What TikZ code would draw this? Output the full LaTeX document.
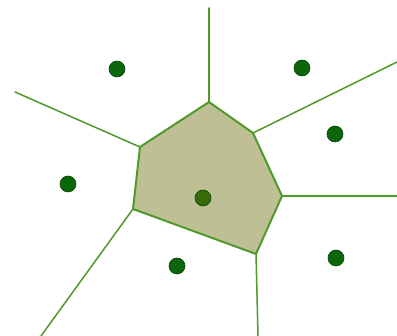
\documentclass[tikz,border=0pt]{standalone}
\usetikzlibrary{positioning}
\definecolor{edgegreen}{HTML}{4E9A2C}
\definecolor{cellfill}{HTML}{BFBF96}
\definecolor{sitegreen}{HTML}{0B650B}
\definecolor{sitecenter}{HTML}{386A08}
\tikzset{
edge/.style={edgegreen,line width=1.5pt,line join=round,line cap=round},
cell/.style={fill=cellfill,draw=edgegreen,line width=2pt,line join=round},
site/.style={circle,fill=sitegreen,draw=sitegreen!70!black,line width=.6pt,minimum size=16pt,inner sep=0pt},
sitec/.style={site,fill=sitecenter}
}
\begin{document}
\begin{tikzpicture}[x=1pt,y=-1pt]
\useasboundingbox[fill=white](0,0)rectangle(397,336);
% cell corners
\coordinate(v1)at(209,102);\coordinate(v2)at(253,133);\coordinate(v3)at(282,196);
\coordinate(v4)at(256,254);\coordinate(v5)at(133,209);\coordinate(v6)at(140,147);
% outer ends
\coordinate(e1)at(209,8);\coordinate(e2)at(397,62);\coordinate(e3)at(397,196);
\coordinate(e4)at(258,336);\coordinate(e5)at(41,336);\coordinate(e6)at(15,92);
\draw[edge](v1)--(e1);\draw[edge](v2)--(e2);\draw[edge](v3)--(e3);
\draw[edge](v4)--(e4);\draw[edge](v5)--(e5);\draw[edge](v6)--(e6);
\draw[cell](v1)--(v2)--(v3)--(v4)--(v5)--(v6)--cycle;
% sites
\node[sitec](c)at(203,198){};
\node[site](nw)at(117,69){};\node[site](ne)at(302,68){};
\node[site](e)at(335,134){};\node[site](w)at(68,184){};
\node[site](s)at(177,266){};\node[site](se)at(336,258){};
\end{tikzpicture}
\end{document}
